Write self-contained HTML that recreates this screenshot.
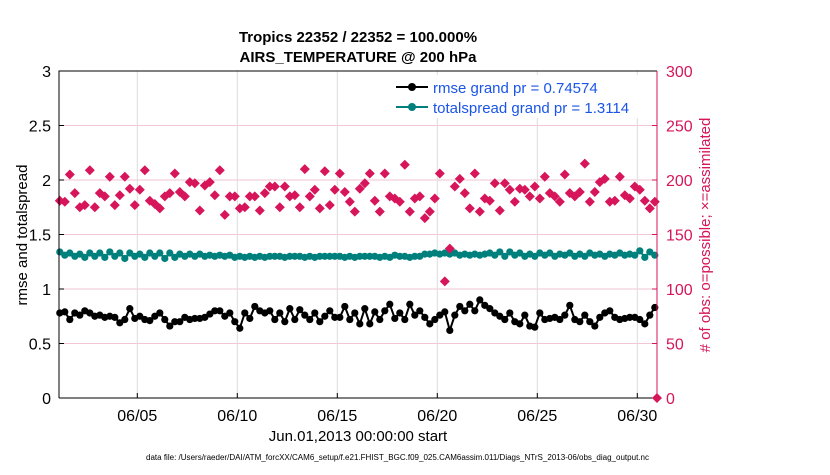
<!DOCTYPE html>
<html><head><meta charset="utf-8"><style>
body{margin:0;background:#fff;}
svg text{font-family:"Liberation Sans",Arial,sans-serif;}
</style></head><body>
<svg id="chart" width="830" height="470" xmlns="http://www.w3.org/2000/svg">
<rect width="830" height="470" fill="#fff"/>
<text x="358" y="42" text-anchor="middle" font-size="15" font-weight="bold">Tropics 22352 / 22352 = 100.000%</text>
<text x="358" y="62" text-anchor="middle" font-size="15" font-weight="bold">AIRS_TEMPERATURE @ 200 hPa</text>
<g id="grid"></g><g id="series"></g><g id="axes"></g>
<text transform="translate(27,235) rotate(-90)" text-anchor="middle" font-size="15">rmse and totalspread</text>
<text transform="translate(710,235) rotate(-90)" text-anchor="middle" font-size="15" fill="#d6155a">#  of obs: o=possible; ×=assimilated</text>
<text x="358" y="441" text-anchor="middle" font-size="15">Jun.01,2013 00:00:00 start</text>
<text x="146" y="460" font-size="8" textLength="503" lengthAdjust="spacingAndGlyphs">data file: /Users/raeder/DAI/ATM_forcXX/CAM6_setup/f.e21.FHIST_BGC.f09_025.CAM6assim.011/Diags_NTrS_2013-06/obs_diag_output.nc</text>
<g>
<rect x="390" y="75" width="256" height="43" fill="#fff"/>
<line x1="396" y1="87" x2="428" y2="87" stroke="#000" stroke-width="2"/><circle cx="412" cy="87" r="4" fill="#000"/>
<text x="433" y="93" font-size="15" fill="#1a55e8">rmse grand pr = 0.74574</text>
<line x1="396" y1="107" x2="428" y2="107" stroke="#00807c" stroke-width="2"/><circle cx="412" cy="107" r="4" fill="#00807c"/>
<text x="433" y="113" font-size="15" fill="#1a55e8">totalspread grand pr = 1.3114</text>
</g>
</svg>
<script>
const rmse=[0.78,0.79,0.72,0.78,0.76,0.80,0.78,0.75,0.76,0.74,0.75,0.74,0.69,0.72,0.82,0.73,0.75,0.72,0.71,0.75,0.78,0.72,0.66,0.70,0.70,0.74,0.72,0.73,0.73,0.74,0.77,0.80,0.80,0.75,0.78,0.70,0.64,0.78,0.73,0.84,0.80,0.78,0.80,0.72,0.78,0.70,0.82,0.72,0.81,0.76,0.72,0.78,0.70,0.75,0.80,0.74,0.74,0.84,0.72,0.78,0.68,0.82,0.68,0.79,0.72,0.80,0.86,0.73,0.78,0.72,0.86,0.76,0.80,0.74,0.68,0.72,0.76,0.79,0.62,0.76,0.84,0.80,0.86,0.80,0.90,0.85,0.82,0.78,0.75,0.72,0.78,0.70,0.68,0.76,0.66,0.65,0.78,0.72,0.73,0.74,0.72,0.76,0.85,0.72,0.70,0.76,0.70,0.66,0.74,0.78,0.80,0.74,0.72,0.73,0.74,0.74,0.72,0.68,0.76,0.83];
const spread=[1.34,1.31,1.33,1.30,1.32,1.29,1.33,1.30,1.33,1.29,1.34,1.30,1.33,1.28,1.33,1.30,1.32,1.29,1.33,1.30,1.33,1.28,1.33,1.29,1.32,1.30,1.32,1.30,1.32,1.30,1.31,1.30,1.31,1.30,1.31,1.29,1.30,1.29,1.30,1.29,1.30,1.29,1.30,1.30,1.30,1.29,1.30,1.30,1.30,1.29,1.30,1.29,1.30,1.30,1.30,1.30,1.30,1.29,1.30,1.29,1.30,1.30,1.30,1.30,1.29,1.30,1.29,1.31,1.30,1.30,1.29,1.30,1.30,1.32,1.32,1.33,1.32,1.33,1.32,1.33,1.31,1.32,1.31,1.32,1.31,1.32,1.33,1.31,1.34,1.30,1.34,1.31,1.33,1.30,1.32,1.30,1.33,1.31,1.33,1.30,1.32,1.31,1.33,1.30,1.32,1.30,1.33,1.31,1.32,1.30,1.32,1.31,1.33,1.31,1.32,1.31,1.35,1.29,1.34,1.31];
const obs=[181,180,205,188,175,177,209,175,188,185,203,177,186,203,192,177,191,209,181,178,174,185,188,206,189,185,198,197,172,195,198,186,209,168,185,185,174,175,185,185,172,188,194,194,175,194,185,186,175,210,185,191,174,208,177,191,206,189,180,171,192,197,206,181,171,206,185,183,180,214,171,183,185,165,171,183,206,107,137,194,201,188,174,206,171,183,181,197,172,197,191,180,192,191,185,194,183,203,188,185,180,205,188,185,189,215,180,189,198,201,180,181,203,186,183,194,191,181,174,180];
const xTickDays=[5,10,15,20,25,30];
const xTickLabels=["06/05","06/10","06/15","06/20","06/25","06/30"];
const yTicks=[0,0.5,1,1.5,2,2.5,3];
const yTickLabels=["0","0.5","1","1.5","2","2.5","3"];
const y2Ticks=[0,50,100,150,200,250,300];
const t0=1.125, dt=0.25;
const L=59,R=657,T=71,B=398;
const xs=d=>137.3+(d-5)*20.0;
const ys=v=>B-(v/3)*(B-T);
const y2=v=>B-(v/300)*(B-T);
const NS="http://www.w3.org/2000/svg";
function mk(tag,parent,attrs){const e=document.createElementNS(NS,tag);for(const k in attrs)e.setAttribute(k,attrs[k]);parent.appendChild(e);return e;}
const grid=document.getElementById('grid'),ser=document.getElementById('series'),ax=document.getElementById('axes');
yTicks.forEach((v,i)=>{if(v>0&&v<3){const l=mk('line',grid,{x1:L,x2:R,y1:ys(v),y2:ys(v),stroke:'#f2c6d6','stroke-width':1});

}
const t=mk('text',ax,{x:L-8,y:ys(v)+6,'text-anchor':'end','font-size':16});t.textContent=yTickLabels[i];


mk('line',ax,{x1:L,x2:L+5,y1:ys(v),y2:ys(v),stroke:'#000'});});
y2Ticks.forEach(v=>{const t=mk('text',ax,{x:R+9,y:y2(v)+6,'font-size':16,fill:'#d6155a'});t.textContent=v;


mk('line',ax,{x1:R-5,x2:R,y1:y2(v),y2:y2(v),stroke:'#d6155a'});});
xTickDays.forEach((d,i)=>{const l=mk('line',grid,{x1:xs(d),x2:xs(d),y1:T,y2:B,stroke:'#dcdcdc','stroke-width':1});


mk('line',ax,{x1:xs(d),x2:xs(d),y1:B,y2:B-5,stroke:'#000'});
const t=mk('text',ax,{x:xs(d),y:B+23,'text-anchor':'middle','font-size':16});t.textContent=xTickLabels[i];

});
mk('path',ax,{d:`M${L} ${B}V${T}H${R}`,fill:'none',stroke:'#000'});
mk('line',ax,{x1:L,x2:R,y1:B,y2:B,stroke:'#000'});
mk('line',ax,{x1:R,x2:R,y1:T,y2:B,stroke:'#d6155a'});
function line(arr,col,name){const pts=arr.map((v,i)=>xs(t0+i*dt).toFixed(1)+','+ys(v).toFixed(1)).join(' ');
const p=mk('polyline',ser,{points:pts,fill:'none',stroke:col,'stroke-width':2});


arr.forEach((v,i)=>{const c=mk('circle',ser,{cx:xs(t0+i*dt),cy:ys(v),r:3.6,fill:col});

});}
line(spread,'#00807c','totalspread');
line(rmse,'#000','rmse');
obs.forEach((v,i)=>{const x=xs(t0+i*dt),y=y2(v),s=5;
const p=mk('path',ser,{d:`M${x} ${y-s}L${x+s} ${y}L${x} ${y+s}L${x-s} ${y}Z`,fill:'#d6155a'});

});
const z=mk('path',ax,{d:`M${R} ${B-5}L${R+5} ${B}L${R} ${B+5}L${R-5} ${B}Z`,fill:'#d6155a'});


</script>
</body></html>
